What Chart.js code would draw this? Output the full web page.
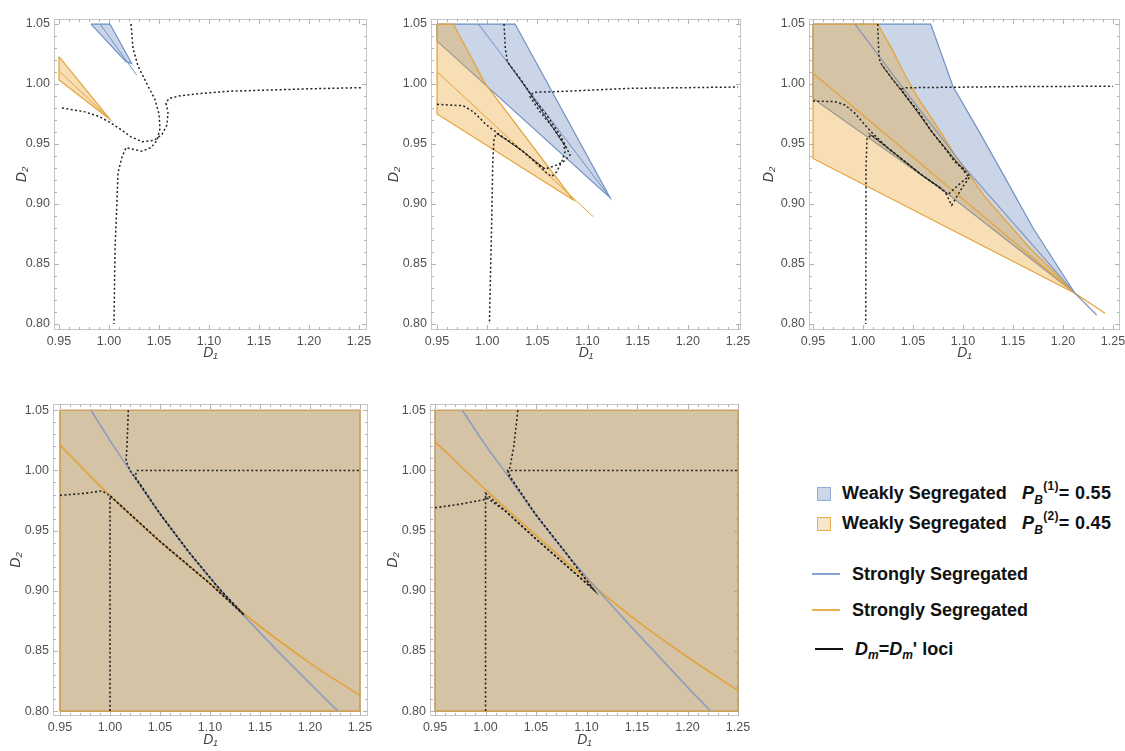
<!DOCTYPE html>
<html>
<head>
<meta charset="utf-8">
<script src="https://cdn.jsdelivr.net/npm/chart.js@4.4.1/dist/chart.umd.min.js"></script>
<style>
  body { margin: 0; background: #fff; }
  #page { position: relative; width: 1125px; height: 751px; overflow: hidden; font-family: "Liberation Sans", Arial, sans-serif; }
  canvas { position: absolute; }
  .key { position: absolute; font-weight: bold; font-size: 18px; line-height: 20px; color: #111; white-space: nowrap; }
  .box { position: absolute; width: 12px; height: 12px; border: 1.5px solid; }
  .bar { position: absolute; width: 28px; height: 2px; }
  .sm { font-size: 12px; position: relative; }
</style>
</head>
<body>
<div id="page">
  <canvas id="c1"></canvas>
  <canvas id="c2"></canvas>
  <canvas id="c3"></canvas>
  <canvas id="c4"></canvas>
  <canvas id="c5"></canvas>

  <div class="box" style="left:817px;top:487px;background:#ccd7ea;border-color:#93acd4"></div>
  <div class="key" style="left:842px;top:483px">Weakly Segregated</div>
  <div class="key" style="left:1022px;top:483px;letter-spacing:0.3px"><i>P</i><span class="sm" style="top:5px"><i>B</i></span><span class="sm" style="top:-9px">(1)</span>= 0.55</div>
  <div class="box" style="left:817px;top:517px;background:#f6e6cc;border-color:#e6ae4c"></div>
  <div class="key" style="left:842px;top:513px">Weakly Segregated</div>
  <div class="key" style="left:1022px;top:513px;letter-spacing:0.3px"><i>P</i><span class="sm" style="top:5px"><i>B</i></span><span class="sm" style="top:-9px">(2)</span>= 0.45</div>

  <div class="bar" style="left:812px;top:573px;background:#86a2d2"></div>
  <div class="key" style="left:852px;top:564px">Strongly Segregated</div>
  <div class="bar" style="left:812px;top:609px;background:#eab04f"></div>
  <div class="key" style="left:852px;top:600px">Strongly Segregated</div>
  <div class="bar" style="left:815px;top:648px;background:#111"></div>
  <div class="key" style="left:855px;top:639px"><i>D<span class="sm" style="top:4px">m</span></i>=<i>D<span class="sm" style="top:4px">m</span></i>' loci</div>
</div>
<script>
// axis ticks shared by all five panels
const xTicks = [0.95, 1.00, 1.05, 1.10, 1.15, 1.20, 1.25];
const yTicks = [0.80, 0.85, 0.90, 0.95, 1.00, 1.05];

// panel 1
const p1BlueWeak = [[0.982,1.05],[1.001,1.05],[1.0227,1.0172],[1.017,1.0186]];
const p1BlueStrong = [[0.991,1.05],[1.0277,1.0075]];
const p1OrangeWeak = [[0.95,1.0228],[1.001,0.9706],[0.95,1.0033]];
const p1OrangeStrong = [[0.95,1.011],[1.001,0.9706]];
const p1Locus1 = [[0.953,0.980],[0.975,0.977],[0.99,0.973],[1.001,0.968],[1.012,0.962],[1.022,0.956],[1.033,0.952],[1.045,0.953],[1.053,0.958],[1.058,0.966],[1.059,0.976],[1.057,0.984],[1.06,0.988],[1.07,0.990],[1.09,0.992],[1.12,0.994],[1.16,0.995],[1.20,0.996],[1.253,0.997]];
const p1Locus2 = [[1.022,1.05],[1.024,1.03],[1.029,1.015],[1.038,1.0],[1.046,0.987],[1.05,0.975],[1.051,0.963],[1.048,0.953],[1.042,0.947],[1.033,0.944],[1.022,0.946],[1.017,0.947],[1.013,0.939],[1.009,0.926],[1.008,0.903],[1.006,0.862],[1.005,0.80]];

// panel 2
const p2OrangeWeak = [[0.95,1.05],[0.9663,1.05],[0.9979,1.0006],[1.0859,0.9033],[0.95,0.975]];
const p2OrangeStrong = [[0.95,1.0103],[1.1058,0.8894]];
const p2BlueWeak = [[0.95,1.05],[1.0278,1.05],[1.1225,0.9053],[0.95,1.0358]];
const p2BlueStrong = [[0.9912,1.05],[1.1225,0.9053]];
const p2Locus1 = [[0.95,0.9831],[0.9763,0.9819],[0.9862,0.9769],[0.9995,0.9658],[1.0128,0.9575],[1.0294,0.9478],[1.046,0.9367],[1.0577,0.9269],[1.0643,0.9228],[1.0693,0.9269],[1.0743,0.9353],[1.0776,0.9436],[1.076,0.9506],[1.066,0.9631],[1.0527,0.9769],[1.0427,0.9894],[1.046,0.9931],[1.076,0.9939],[1.1424,0.9964],[1.25,0.9975]];
const p2Locus2 = [[1.0168,1.05],[1.0181,1.0297],[1.0201,1.0186],[1.0328,1.0047],[1.046,0.9881],[1.0593,0.9742],[1.0726,0.9575],[1.0793,0.9464],[1.0826,0.9408],[1.076,0.9353],[1.0676,0.9319],[1.0577,0.9292],[1.0494,0.9339],[1.0361,0.9436],[1.0228,0.9519],[1.0095,0.9589],[1.0068,0.9547],[1.0055,0.9325],[1.0045,0.8853],[1.0022,0.80]];
const p2LociUpper = [[1.0201,1.0186],[1.046,0.9881],[1.0793,0.9464]];
const p2LociLower = [[1.0095,0.9589],[1.0361,0.9436],[1.0577,0.9292]];

// panel 3
const p3OrangeWeak = [[0.95,1.05],[1.0147,1.05],[1.0287,1.0297],[1.042,1.0075],[1.0553,0.988],[1.0753,0.963],[1.092,0.9408],[1.1087,0.9214],[1.122,0.906],[1.165,0.865],[1.212,0.8256],[0.95,0.938]];
const p3OrangeStrong = [[0.95,1.009],[1.212,0.8256],[1.242,0.809]];
const p3BlueWeak = [[0.95,1.05],[1.0677,1.05],[1.09,0.998],[1.115,0.962],[1.142,0.922],[1.17,0.88],[1.212,0.8256],[1.082,0.9103],[0.95,0.988]];
const p3BlueStrong = [[0.992,1.05],[1.0387,0.998],[1.10,0.932],[1.212,0.8256],[1.2337,0.8075]];
const p3Locus1 = [[0.95,0.9858],[0.972,0.9853],[0.982,0.9825],[0.992,0.9756],[1.002,0.9658],[1.0087,0.9597],[1.0253,0.9464],[1.042,0.9353],[1.0587,0.9242],[1.0753,0.9144],[1.082,0.9103],[1.0887,0.899],[1.0987,0.913],[1.107,0.923],[1.1,0.93],[1.092,0.9353],[1.082,0.9464],[1.0687,0.9603],[1.0553,0.977],[1.042,0.9908],[1.0387,0.9958],[1.042,0.9969],[1.142,0.9978],[1.25,0.9982]];
const p3Locus2 = [[1.0147,1.05],[1.016,1.0214],[1.018,1.0172],[1.0287,1.0047],[1.042,0.9908],[1.0553,0.977],[1.0687,0.9603],[1.082,0.9464],[1.092,0.9353],[1.0987,0.9297],[1.1053,0.9228],[1.097,0.917],[1.085,0.908],[1.0753,0.9144],[1.0587,0.9242],[1.042,0.9353],[1.0253,0.9464],[1.0087,0.9575],[1.004,0.955],[1.003,0.93],[1.003,0.87],[1.0027,0.80]];
const p3LociUpper = [[1.0187,1.0158],[1.042,0.9908],[1.0687,0.9603],[1.102,0.927]];
const p3LociLower = [[1.0053,0.959],[1.0253,0.9464],[1.0587,0.9242],[1.0787,0.913]];

// panel 4
const p4Weak = [[0.95,0.80],[1.25,0.80],[1.25,1.05],[0.95,1.05]];
const p4BlueStrong = [[0.981,1.05],[1.0,1.025],[1.02,1.0],[1.05,0.964],[1.08,0.931],[1.11,0.901],[1.14,0.874],[1.17,0.848],[1.20,0.823],[1.228,0.80]];
const p4OrangeStrong = [[0.95,1.021],[1.0,0.979],[1.05,0.941],[1.10,0.906],[1.14,0.877],[1.20,0.840],[1.25,0.813]];
const p4Locus1 = [[0.95,0.9793],[0.975,0.981],[0.992,0.983],[1.0,0.979],[1.05,0.941],[1.10,0.906],[1.134,0.88],[1.11,0.901],[1.08,0.931],[1.05,0.964],[1.025,0.995],[1.027,1.0],[1.25,1.0]];
const p4Locus2 = [[1.0183,1.05],[1.017,1.02],[1.016,1.008],[1.02,1.0],[1.05,0.964],[1.08,0.931],[1.11,0.901],[1.134,0.88],[1.10,0.906],[1.05,0.941],[1.0,0.979],[1.0,0.80]];

// panel 5
const p5Weak = [[0.95,0.80],[1.25,0.80],[1.25,1.05],[0.95,1.05]];
const p5BlueStrong = [[0.977,1.05],[1.0,1.021],[1.02,0.998],[1.05,0.963],[1.08,0.931],[1.11,0.902],[1.14,0.874],[1.17,0.847],[1.20,0.82],[1.223,0.80]];
const p5OrangeStrong = [[0.95,1.024],[1.0,0.984],[1.05,0.946],[1.11,0.902],[1.15,0.875],[1.20,0.845],[1.25,0.817]];
const p5Locus1 = [[0.95,0.969],[0.975,0.972],[1.0,0.976],[1.0,0.981],[1.02,0.966],[1.05,0.943],[1.08,0.921],[1.107,0.901],[1.08,0.931],[1.05,0.963],[1.025,0.994],[1.022,1.0],[1.05,1.0],[1.25,1.0]];
const p5Locus2 = [[1.032,1.05],[1.028,1.02],[1.024,1.002],[1.022,0.997],[1.05,0.963],[1.08,0.931],[1.107,0.901],[1.08,0.921],[1.05,0.943],[1.02,0.966],[1.0,0.978],[1.0,0.80]];

const BLUE_FILL = 'rgba(94,129,181,0.33)';
const BLUE_EDGE = '#7090c6';
const ORANGE_FILL = 'rgba(232,160,40,0.35)';
const ORANGE_EDGE = '#e3a33a';
const DOT = [2, 2.4];

const YW = 52, TP = 8, RP = 16, XH = 42;
const tickFont = {family: 'Liberation Sans', size: 12.5};
const titleFont = {family: 'Liberation Sans', size: 14, style: 'italic'};

function zone(pts, fill, edge) {
  const d = pts.concat([pts[0]]).map(p => ({x: p[0], y: p[1]}));
  return {data: d, fill: 'shape', backgroundColor: fill, borderColor: edge, borderWidth: 1.2, pointRadius: 0};
}
function curve(pts, color, width, dash, tension) {
  return {data: pts.map(p => ({x: p[0], y: p[1]})), fill: false, borderColor: color,
          borderWidth: width, borderDash: dash || [], pointRadius: 0, tension: tension || 0};
}

// mathematica style frame with inward ticks
const framePlugin = {
  id: 'frame',
  beforeDatasetsDraw(chart) {
    const {ctx, chartArea: a, scales: {x, y}} = chart;
    ctx.save();
    ctx.strokeStyle = '#c6c6c6';
    ctx.lineWidth = 1;
    ctx.strokeRect(a.left + 0.5, a.top + 0.5, a.width - 1, a.height - 1);
    ctx.strokeStyle = '#b4b4b4';
    ctx.beginPath();
    for (let i = 0; i <= 30; i++) {
      const px = Math.round(x.getPixelForValue(0.95 + i * 0.01)) + 0.5;
      const len = i % 5 === 0 ? 5 : 3;
      ctx.moveTo(px, a.bottom); ctx.lineTo(px, a.bottom - len);
      ctx.moveTo(px, a.top); ctx.lineTo(px, a.top + len);
    }
    for (let i = 0; i <= 25; i++) {
      const py = Math.round(y.getPixelForValue(0.80 + i * 0.01)) + 0.5;
      const len = i % 5 === 0 ? 5 : 3;
      ctx.moveTo(a.left, py); ctx.lineTo(a.left + len, py);
      ctx.moveTo(a.right, py); ctx.lineTo(a.right - len, py);
    }
    ctx.stroke();
    ctx.restore();
  }
};

const panels = [
  {id: 'c1', frame: [54, 19, 367, 330], x: [0.945, 1.258], y: [0.7950, 1.0542], yGap: 32, xGap: 23, sets: [
    curve(p1Locus1, '#222', 1.5, DOT), curve(p1Locus2, '#222', 1.5, DOT),
    curve(p1BlueStrong, BLUE_EDGE, 1), curve(p1OrangeStrong, ORANGE_EDGE, 1),
    zone(p1OrangeWeak, ORANGE_FILL, ORANGE_EDGE), zone(p1BlueWeak, BLUE_FILL, BLUE_EDGE)]},
  {id: 'c2', frame: [431, 19, 741, 330], x: [0.944, 1.253], y: [0.7950, 1.0542], yGap: 37, xGap: 23, sets: [
    curve(p2Locus1, '#222', 1.5, DOT), curve(p2Locus2, '#222', 1.5, DOT),
    curve(p2LociUpper, '#333', 1), curve(p2LociLower, '#333', 1),
    curve(p2BlueStrong, BLUE_EDGE, 1), curve(p2OrangeStrong, ORANGE_EDGE, 1),
    zone(p2OrangeWeak, ORANGE_FILL, ORANGE_EDGE), zone(p2BlueWeak, BLUE_FILL, BLUE_EDGE)]},
  {id: 'c3', frame: [809, 19, 1120, 330], x: [0.946, 1.257], y: [0.7950, 1.0542], yGap: 40, xGap: 23, sets: [
    curve(p3Locus1, '#222', 1.5, DOT), curve(p3Locus2, '#222', 1.5, DOT),
    curve(p3LociUpper, '#333', 1), curve(p3LociLower, '#333', 1),
    curve(p3BlueStrong, '#8796b4', 1.2), curve(p3OrangeStrong, ORANGE_EDGE, 1.2),
    zone(p3OrangeWeak, ORANGE_FILL, ORANGE_EDGE), zone(p3BlueWeak, BLUE_FILL, BLUE_EDGE)]},
  {id: 'c4', frame: [53, 404, 368, 716], x: [0.943, 1.258], y: [0.796, 1.0552], yGap: 37, xGap: 24, sets: [
    curve(p4Locus1, '#222', 1.6, DOT), curve(p4Locus2, '#222', 1.6, DOT),
    curve(p4BlueStrong, '#8e9dbd', 1.6, null, 0.3), curve(p4OrangeStrong, ORANGE_EDGE, 1.6, null, 0.3),
    zone(p4Weak, ORANGE_FILL, ORANGE_EDGE), zone(p4Weak, BLUE_FILL, BLUE_EDGE)]},
  {id: 'c5', frame: [430, 404, 739, 716], x: [0.945, 1.251], y: [0.796, 1.0552], yGap: 37, xGap: 24, sets: [
    curve(p5Locus1, '#222', 1.6, DOT), curve(p5Locus2, '#222', 1.6, DOT),
    curve(p5BlueStrong, '#8e9dbd', 1.6, null, 0.3), curve(p5OrangeStrong, ORANGE_EDGE, 1.6, null, 0.3),
    zone(p5Weak, ORANGE_FILL, ORANGE_EDGE), zone(p5Weak, BLUE_FILL, BLUE_EDGE)]}
];

function makeChart(p) {
  const [l, t, r, b] = p.frame;
  const cv = document.getElementById(p.id);
  cv.width = (r - l) + YW + RP;
  cv.height = (b - t) + TP + XH;
  cv.style.left = (l - YW) + 'px';
  cv.style.top = (t - TP) + 'px';
  new Chart(cv, {
    type: 'line',
    data: {datasets: p.sets},
    options: {
      responsive: false,
      animation: false,
      devicePixelRatio: 1,
      layout: {padding: {left: 0, top: TP, right: RP, bottom: 0}},
      plugins: {legend: {display: false}, tooltip: {enabled: false}},
      scales: {
        x: {
          type: 'linear', min: p.x[0], max: p.x[1],
          grid: {display: false, drawTicks: false}, border: {display: false},
          afterBuildTicks: s => { s.ticks = xTicks.map(v => ({value: v})); },
          afterFit: s => { s.height = XH; s.paddingLeft = 0; s.paddingRight = 0; },
          ticks: {autoSkip: false, maxRotation: 0, minRotation: 0, padding: 4, color: '#505050', font: tickFont,
                  callback: v => v.toFixed(2)},
          title: {display: true, text: 'D₁', color: '#444', font: titleFont,
                  padding: {top: 0, bottom: XH - p.xGap - 8.4}}
        },
        y: {
          type: 'linear', min: p.y[0], max: p.y[1],
          grid: {display: false, drawTicks: false}, border: {display: false},
          afterBuildTicks: s => { s.ticks = yTicks.map(v => ({value: v})); },
          afterFit: s => { s.width = YW; s.paddingTop = 0; s.paddingBottom = 0; },
          ticks: {autoSkip: false, padding: 4, color: '#505050', font: tickFont,
                  callback: v => v.toFixed(2)},
          title: {display: true, text: 'D₂', color: '#444', font: titleFont,
                  padding: {top: YW - p.yGap - 8.4, bottom: 0}}
        }
      }
    },
    plugins: [framePlugin]
  });
}

panels.forEach(makeChart);
</script>
</body>
</html>
